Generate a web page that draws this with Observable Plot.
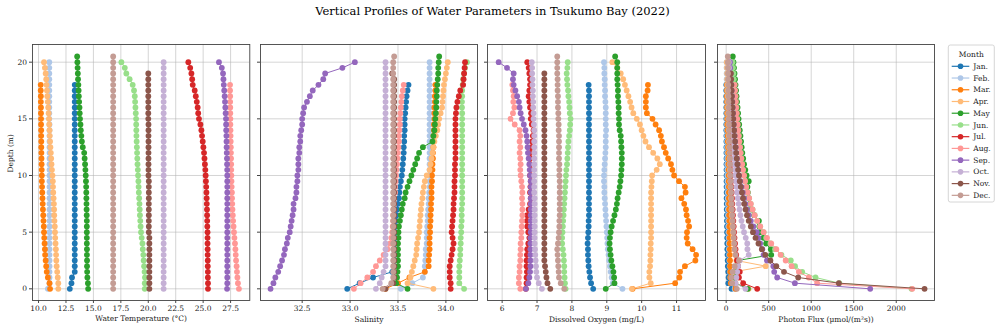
<!DOCTYPE html>
<html><head><meta charset="utf-8">
<script src="https://cdn.jsdelivr.net/npm/d3@7"></script>
<script src="https://cdn.jsdelivr.net/npm/@observablehq/plot@0.6"></script>
<style>
body{margin:0;background:#fff;font-family:"DejaVu Serif",serif;}
#fig{position:relative;width:1000px;height:330px;overflow:hidden;}
#fig svg.plot{position:absolute;}
#title{position:absolute;left:0;width:985px;top:4px;text-align:center;font-size:11.5px;color:#000;}
</style></head><body>
<div id="fig"><div id="title">Vertical Profiles of Water Parameters in Tsukumo Bay (2022)</div></div>
<script>
const months = ["Jan.","Feb.","Mar.","Apr.","May","Jun.","Jul.","Aug.","Sep.","Oct.","Nov.","Dec."];
const monthColors = ["#1f77b4","#aec7e8","#ff7f0e","#ffbb78","#2ca02c","#98df8a","#d62728","#ff9896","#9467bd","#c5b0d5","#8c564b","#c49c94"];
const depths = [0,0.5,1,1.5,2,2.5,3,3.5,4,4.5,5,5.5,6,6.5,7,7.5,8,8.5,9,9.5,10,10.5,11,11.5,12,12.5,13,13.5,14,14.5,15,15.5,16,16.5,17,17.5,18,18.5,19,19.5,20,20.5];
const yTicks = [0,5,10,15,20];
const tempTicks = [10,12.5,15,17.5,20,22.5,25,27.5];
const salTicks = [32.5,33,33.5,34];
const doTicks = [6,7,8,9,10,11];
const pfTicks = [0,500,1000,1500,2000];

// Water temperature (°C), from the surface (0 m) downwards in 0.5 m steps
const tempJan = [12.85,13.0,13.05,13.3,13.3,13.3,13.3,13.3,13.3,13.3, 13.3,13.3,13.3,13.3,13.3,13.3,13.3,13.3,13.3,13.3, 13.3,13.3,13.3,13.3,13.3,13.3,13.3,13.3,13.3,13.3, 13.3,13.3,13.3,13.3,13.3,13.3,13.3];
const tempFeb = [10.85,11.0,11.0,11.0,11.0,11.0,11.0,11.0,11.0,11.0, 11.0,11.0,11.0,11.0,11.0,11.0,11.0,11.0,11.0,11.0, 11.0,11.0,11.0,11.0,11.0,11.0,11.0,11.0,11.0,11.0, 10.98,10.98,10.98,10.98,10.98,10.98,10.98,10.98,10.98,10.98, 10.98];
const tempMar = [11.05,11.0,10.85,10.75,10.7,10.65,10.6,10.58,10.55,10.52, 10.5,10.48,10.45,10.43,10.4,10.38,10.36,10.34,10.32,10.3, 10.3,10.29,10.28,10.27,10.26,10.25,10.25,10.24,10.24,10.23, 10.23,10.22,10.22,10.21,10.21,10.2,10.2];
const tempApr = [11.8,11.8,11.75,11.7,11.65,11.62,11.6,11.58,11.55,11.52, 11.5,11.48,11.45,11.43,11.42,11.4,11.37,11.34,11.32,11.3, 11.27,11.22,11.18,11.15,11.12,11.08,11.05,11.02,11.0,10.97, 10.95,10.92,10.88,10.84,10.8,10.77,10.73,10.7,10.65,10.58, 10.5];
const tempMay = [14.52,14.5,14.45,14.43,14.42,14.42,14.41,14.41,14.4,14.4, 14.4,14.4,14.4,14.39,14.38,14.37,14.36,14.35,14.34,14.32, 14.3,14.27,14.24,14.2,14.16,14.03,13.95,13.9,13.85,13.82, 13.78,13.75,13.73,13.7,13.67,13.65,13.63,13.6,13.58,13.56, 13.54,13.52];
const tempJun = [19.68,19.68,19.7,19.66,19.62,19.58,19.55,19.5,19.47,19.4, 19.34,19.3,19.27,19.24,19.22,19.2,19.17,19.14,19.12,19.1, 19.07,19.05,19.02,19.0,18.98,18.96,18.94,18.92,18.91,18.9, 18.89,18.86,18.83,18.8,18.77,18.7,18.58,18.3,18.0,17.86, 17.55];
const tempJul = [25.44,25.44,25.43,25.43,25.42,25.42,25.41,25.41,25.4,25.4, 25.4,25.38,25.37,25.36,25.35,25.33,25.32,25.3,25.28,25.25, 25.23,25.2,25.16,25.12,25.08,25.02,24.96,24.9,24.84,24.75, 24.62,24.55,24.5,24.42,24.33,24.23,24.05,24.0,23.93,23.82, 23.65];
const tempAug = [28.26,28.17,28.12,28.08,28.05,28.0,27.97,27.94,27.9,27.85, 27.81,27.77,27.73,27.7,27.67,27.65,27.63,27.62,27.6,27.58, 27.57,27.56,27.55,27.54,27.53,27.52,27.51,27.5,27.49,27.48, 27.48,27.47,27.47,27.46,27.46,27.45,27.45];
const tempSep = [27.18,27.2,27.2,27.2,27.2,27.2,27.2,27.2,27.2,27.2, 27.2,27.2,27.2,27.2,27.2,27.2,27.2,27.2,27.2,27.2, 27.2,27.19,27.18,27.17,27.15,27.14,27.13,27.12,27.1,27.09, 27.08,27.05,27.02,26.99,26.96,26.92,26.88,26.85,26.81,26.7, 26.44];
const tempOct = [21.4,21.4,21.4,21.4,21.4,21.4,21.4,21.4,21.4,21.4, 21.4,21.4,21.4,21.4,21.4,21.4,21.4,21.4,21.4,21.4, 21.4,21.4,21.4,21.4,21.4,21.4,21.4,21.4,21.4,21.4, 21.4,21.4,21.4,21.4,21.4,21.4,21.4,21.4,21.4,21.4, 21.4];
const tempNov = [20.1,20.1,20.1,20.1,20.1,20.1,20.1,20.1,20.1,20.1, 20.05,20.05,20.05,20.05,20.05,20.05,20.05,20.05,20.05,20.05, 20.02,20.02,20.02,20.02,20.02,20.02,20.02,20.02,20.02,20.02, 20.0,20.0,20.0,20.0,20.0,20.0,20.0,20.0,20.0];
const tempDec = [16.8,16.8,16.8,16.8,16.8,16.8,16.8,16.8,16.8,16.8, 16.8,16.8,16.8,16.8,16.8,16.8,16.8,16.8,16.8,16.8, 16.8,16.8,16.8,16.8,16.8,16.8,16.8,16.8,16.8,16.8, 16.8,16.8,16.8,16.8,16.8,16.8,16.8,16.8,16.8,16.8, 16.8,16.8];

// Salinity
const salJan = [32.97,33.1,33.24,33.44,33.46,33.46,33.465,33.465,33.47,33.47, 33.47,33.475,33.48,33.485,33.49,33.5,33.51,33.515,33.52,33.53, 33.54,33.545,33.55,33.555,33.56,33.56,33.565,33.565,33.57,33.57, 33.57,33.575,33.58,33.585,33.59,33.6,33.61];
const salFeb = [33.53,33.65,33.76,33.78,33.78,33.785,33.79,33.79,33.8,33.8, 33.8,33.805,33.81,33.81,33.815,33.82,33.82,33.825,33.83,33.83, 33.83,33.83,33.83,33.83,33.83,33.83,33.83,33.83,33.83,33.83, 33.83,33.83,33.83,33.83,33.83,33.83,33.83,33.83,33.83,33.83, 33.83];
const salMar = [33.37,33.5,33.62,33.78,33.82,33.82,33.825,33.83,33.83,33.83, 33.835,33.835,33.84,33.84,33.845,33.845,33.85,33.85,33.85,33.855, 33.855,33.86,33.86,33.865,33.865,33.87,33.87,33.87,33.875,33.875, 33.88,33.88,33.88,33.885,33.885,33.89,33.89];
const salApr = [33.87,33.6,33.63,33.645,33.66,33.675,33.69,33.695,33.7,33.71, 33.72,33.725,33.73,33.735,33.74,33.745,33.755,33.76,33.77,33.78, 33.8,33.83,33.84,33.85,33.86,33.87,33.88,33.895,33.91,33.92, 33.93,33.945,33.96,33.965,33.97,33.975,33.98,33.99,34.0,34.01, 34.02];
const salMay = [33.6,33.48,33.49,33.495,33.5,33.5,33.5,33.5,33.5,33.505, 33.505,33.51,33.52,33.53,33.54,33.55,33.57,33.58,33.6,33.62, 33.64,33.66,33.68,33.7,33.72,33.76,33.86,33.87,33.88,33.885, 33.89,33.895,33.9,33.9,33.905,33.905,33.91,33.915,33.92,33.92, 33.925,33.93];
const salJun = [34.19,34.14,34.14,34.14,34.14,34.145,34.15,34.15,34.155,34.155, 34.16,34.16,34.165,34.165,34.165,34.17,34.17,34.17,34.17,34.17, 34.17,34.17,34.17,34.17,34.17,34.17,34.17,34.17,34.17,34.17, 34.17,34.17,34.168,34.168,34.17,34.17,34.175,34.18,34.19,34.2, 34.22];
const salJul = [34.05,34.05,34.04,34.04,34.04,34.05,34.06,34.07,34.08,34.07, 34.06,34.065,34.07,34.075,34.08,34.08,34.085,34.09,34.09,34.09, 34.095,34.095,34.095,34.1,34.1,34.1,34.1,34.1,34.1,34.1, 34.1,34.105,34.11,34.12,34.135,34.15,34.18,34.185,34.19,34.195, 34.2];
const salAug = [33.04,33.11,33.18,33.24,33.27,33.31,33.35,33.39,33.42,33.43, 33.44,33.445,33.45,33.45,33.455,33.46,33.46,33.47,33.47,33.475, 33.48,33.485,33.49,33.495,33.5,33.505,33.51,33.51,33.515,33.52, 33.52,33.525,33.53,33.535,33.54,33.55,33.56];
const salSep = [32.17,32.2,32.22,32.25,32.27,32.29,32.31,32.32,32.34,32.35, 32.37,32.38,32.39,32.4,32.41,32.41,32.43,32.44,32.44,32.45, 32.45,32.46,32.46,32.46,32.47,32.47,32.48,32.48,32.49,32.5, 32.5,32.51,32.52,32.55,32.58,32.61,32.67,32.72,32.74,32.92, 33.05];
const salOct = [33.27,33.31,33.33,33.35,33.37,33.37,33.37,33.37,33.37,33.37, 33.37,33.37,33.37,33.37,33.37,33.37,33.37,33.37,33.37,33.37, 33.37,33.37,33.37,33.37,33.37,33.37,33.37,33.37,33.37,33.37, 33.37,33.37,33.37,33.37,33.37,33.37,33.37,33.37,33.37,33.37, 33.37];
const salNov = [33.37,33.45,33.46,33.46,33.46,33.46,33.46,33.46,33.46,33.46, 33.46,33.46,33.46,33.46,33.46,33.46,33.46,33.46,33.46,33.46, 33.46,33.46,33.46,33.46,33.46,33.46,33.46,33.46,33.46,33.46, 33.46,33.46,33.46,33.46,33.46,33.46,33.46,33.46,33.44];
const salDec = [33.34,33.43,33.45,33.45,33.45,33.45,33.45,33.45,33.45,33.45, 33.45,33.45,33.45,33.45,33.45,33.45,33.45,33.45,33.45,33.45, 33.45,33.45,33.45,33.45,33.45,33.45,33.45,33.45,33.45,33.45, 33.45,33.45,33.45,33.45,33.45,33.45,33.45,33.45,33.45,33.45, 33.45,33.46];

// Dissolved oxygen (mg/L)
const doJan = [8.61,8.55,8.52,8.5,8.48,8.47,8.46,8.46,8.45,8.46, 8.47,8.48,8.48,8.49,8.49,8.49,8.49,8.49,8.49,8.49, 8.49,8.49,8.49,8.49,8.49,8.49,8.49,8.49,8.49,8.49, 8.49,8.49,8.49,8.49,8.49,8.49,8.48];
const doFeb = [9.45,9.17,9.14,9.11,9.09,9.07,9.05,9.03,9.02,9.01, 9.0,8.99,8.98,8.97,8.96,8.95,8.94,8.93,8.93,8.92, 8.92,8.93,8.94,8.95,8.96,8.97,8.97,8.97,8.98,8.97, 8.97,8.97,8.97,8.96,8.95,8.95,8.94,8.94,8.93,8.93, 8.92];
const doMar = [9.74,10.96,11.08,11.1,11.24,11.54,11.56,11.46,11.32,11.29, 11.3,11.36,11.33,11.29,11.27,11.22,11.14,11.26,11.24,11.07, 10.93,10.88,10.84,10.76,10.69,10.64,10.58,10.55,10.5,10.4, 10.31,10.15,10.12,10.12,10.12,10.17,10.18];
const doApr = [9.72,10.26,10.22,10.22,10.24,10.25,10.25,10.26,10.26,10.27, 10.27,10.27,10.27,10.27,10.27,10.27,10.27,10.27,10.28,10.29, 10.3,10.43,10.52,10.45,10.33,10.21,10.11,10.05,10.0,9.95, 9.86,9.76,9.71,9.67,9.62,9.57,9.52,9.47,9.4,9.3, 9.16];
const doMay = [8.97,9.22,9.21,9.19,9.16,9.13,9.11,9.09,9.08,9.09, 9.11,9.14,9.18,9.22,9.26,9.29,9.31,9.34,9.37,9.39, 9.41,9.42,9.43,9.43,9.43,9.42,9.41,9.4,9.37,9.35, 9.35,9.34,9.34,9.33,9.32,9.32,9.31,9.3,9.3,9.3, 9.3,9.24];
const doJun = [7.82,7.8,7.79,7.78,7.78,7.77,7.76,7.74,7.72,7.72, 7.73,7.74,7.75,7.76,7.77,7.78,7.79,7.8,7.81,7.82, 7.83,7.84,7.86,7.87,7.88,7.89,7.9,7.92,7.94,7.95, 7.96,7.94,7.93,7.92,7.9,7.89,7.87,7.86,7.85,7.87, 7.88];
const doJul = [6.68,6.7,6.7,6.71,6.7,6.7,6.71,6.72,6.75,6.78, 6.75,6.72,6.71,6.72,6.76,6.8,6.82,6.8,6.81,6.82, 6.8,6.82,6.8,6.81,6.82,6.84,6.86,6.88,6.9,6.85, 6.82,6.83,6.8,6.78,6.76,6.78,6.8,6.8,6.78,6.76, 6.72];
const doAug = [6.52,6.48,6.48,6.5,6.5,6.52,6.52,6.53,6.53,6.55, 6.55,6.56,6.57,6.58,6.58,6.58,6.57,6.58,6.57,6.55, 6.53,6.52,6.53,6.52,6.5,6.52,6.5,6.52,6.5,6.36, 6.24,6.31,6.35,6.32,6.33,6.31,6.29];
const doSep = [6.68,6.75,6.78,6.8,6.81,6.81,6.81,6.81,6.81,6.81, 6.82,6.82,6.82,6.82,6.82,6.82,6.82,6.82,6.82,6.82, 6.8,6.79,6.78,6.76,6.74,6.73,6.72,6.7,6.67,6.62, 6.57,6.53,6.5,6.48,6.43,6.38,6.33,6.31,6.33,6.14, 5.9];
const doOct = [7.14,7.05,7.0,6.98,6.97,6.96,6.95,6.94,6.93,6.93, 6.93,6.93,6.93,6.93,6.93,6.93,6.93,6.92,6.92,6.92, 6.92,6.92,6.92,6.92,6.92,6.92,6.92,6.92,6.92,6.91, 6.9,6.9,6.89,6.89,6.88,6.88,6.87,6.87,6.86,6.86, 6.85];
const doNov = [7.38,7.3,7.27,7.25,7.23,7.21,7.21,7.21,7.21,7.21, 7.21,7.21,7.21,7.21,7.21,7.21,7.21,7.21,7.21,7.21, 7.21,7.21,7.21,7.21,7.21,7.21,7.21,7.21,7.21,7.21, 7.21,7.21,7.21,7.21,7.21,7.21,7.21,7.21,7.21];
const doDec = [7.78,7.68,7.63,7.62,7.61,7.6,7.59,7.58,7.6,7.62, 7.63,7.64,7.64,7.65,7.65,7.65,7.65,7.65,7.65,7.65, 7.64,7.64,7.64,7.63,7.63,7.63,7.63,7.63,7.62,7.62, 7.61,7.61,7.6,7.6,7.6,7.59,7.59,7.59,7.58,7.58, 7.58,7.58];

// Photon flux (µmol/(m²s))
const pfJan = [63,25,28,24,20,18,16,14,13,12, 11,10,9,8,7,7,6,6,5,5, 5,4,4,4,3,3,3,3,2,2, 2,2,2,1,1,1,1];
const pfFeb = [100,55,50,45,42,38,35,33,31,29, 27,25,24,22,21,20,19,18,17,16, 15,14,13,13,12,11,11,10,10,9, 9,8,8,7,7,7,6,6,6,5, 5];
const pfMar = [110,55,50,48,46,45,44,43,41,40, 39,38,37,36,35,34,33,33,32,31, 30,29,27,26,24,22,20,18,16,14, 13,12,11,10,9,9,8];
const pfApr = [265,110,95,90,465,120,105,95,88,82, 78,74,70,66,63,60,57,54,51,49, 46,44,42,40,38,36,34,32,30,28, 26,24,22,21,19,17,15,13,12,10, 8];
const pfMay = [255,105,110,120,125,135,530,525,470,440, 400,390,385,330,300,280,265,255,250,265, 240,225,210,200,190,182,175,168,160,153, 146,140,134,128,122,116,110,104,98,92, 86,78];
const pfJun = [2180,1330,1051,894,810,760,650,575,520,470, 440,400,365,335,310,288,268,250,235,220, 208,197,187,178,170,162,155,148,140,132, 125,118,112,107,102,97,93,89,85,80, 75];
const pfJul = [365,200,150,160,140,128,118,110,104,98, 93,88,84,80,76,72,69,66,63,60, 58,56,54,52,50,48,47,46,45,44, 43,42,41,40,39,38,37,36,35,34, 33];
const pfAug = [2188,1070,972,855,770,700,640,590,530,480, 440,400,365,335,310,290,270,252,236,222, 210,198,188,178,170,162,155,148,142,136, 130,125,120,115,110,105,100];
const pfSep = [1694,808,600,565,555,480,440,425,400,380, 360,320,290,265,245,225,210,195,180,165, 150,142,134,126,118,111,105,99,93,88, 84,80,76,72,68,64,60,56,52,48, 45];
const pfOct = [227,110,120,130,140,160,265,250,248,230, 210,195,180,168,157,147,138,130,122,115, 108,102,96,91,86,81,77,73,69,65, 61,58,55,52,49,46,43,40,37,34, 31];
const pfNov = [2333,1325,847,680,590,520,460,420,380,345, 315,290,265,245,228,212,198,185,172,160, 150,140,132,124,117,110,104,98,93,88, 83,79,75,71,67,64,61,58,55];
const pfDec = [125,70,60,75,100,150,110,100,95,90, 85,80,76,72,68,65,62,59,56,53, 50,48,46,44,42,40,38,36,34,32, 30,29,28,27,26,25,24,23,22,21, 20,19];

const panels = [
  {series:[tempJan,tempFeb,tempMar,tempApr,tempMay,tempJun,tempJul,tempAug,tempSep,tempOct,tempNov,tempDec],
   label:"Water Temperature (°C)", ticks:tempTicks, fmt:d=>d.toFixed(1), domain:[9.45,29.25], left:31.7, right:249},
  {series:[salJan,salFeb,salMar,salApr,salMay,salJun,salJul,salAug,salSep,salOct,salNov,salDec],
   label:"Salinity", ticks:salTicks, fmt:d=>d.toFixed(1), domain:[32.065,34.33], left:260, right:477},
  {series:[doJan,doFeb,doMar,doApr,doMay,doJun,doJul,doAug,doSep,doOct,doNov,doDec],
   label:"Dissolved Oxygen (mg/L)", ticks:doTicks, fmt:d=>String(d), domain:[5.58,11.83], left:487, right:705},
  {series:[pfJan,pfFeb,pfMar,pfApr,pfMay,pfJun,pfJul,pfAug,pfSep,pfOct,pfNov,pfDec],
   label:"Photon Flux (µmol/(m²s))", ticks:pfTicks, fmt:d=>String(d), domain:[-102,2450], left:717, right:934}
];

const fig = document.getElementById("fig");
const frameTop = 44, frameBottom = 300;
const mL = 30, mR = 6, mT = 4, mB = 30;
const font = {fontFamily:"DejaVu Serif", fontSize:"7.5px", color:"#222", background:"transparent", overflow:"visible"};

panels.forEach((p, idx) => {
  const marks = [
    Plot.gridX(p.ticks, {stroke:"#b0b0b0", strokeOpacity:0.6, strokeWidth:0.9}),
    Plot.gridY(yTicks, {stroke:"#b0b0b0", strokeOpacity:0.6, strokeWidth:0.9})
  ];
  months.forEach((m, k) => {
    const rows = p.series[k].map((v, i) => ({month:m, depth:depths[i], value:v}));
    marks.push(Plot.line(rows, {x:"value", y:"depth", stroke:"month", strokeWidth:1}));
    marks.push(Plot.dot(rows, {x:"value", y:"depth", fill:"month", r:2.9}));
  });
  marks.push(Plot.frame({stroke:"#444", strokeWidth:0.9}));
  marks.push(Plot.axisX(p.ticks, {tickFormat:p.fmt, tickSize:3, tickPadding:2.5, label:null, stroke:"#444"}));
  marks.push(Plot.text([p.label], {frameAnchor:"bottom", dy:21, fontSize:7.5, fill:"#222"}));
  if (idx === 0) {
    marks.push(Plot.axisY(yTicks, {tickSize:3, tickPadding:2.5, label:null, stroke:"#444"}));
    marks.push(Plot.text(["Depth (m)"], {frameAnchor:"left", rotate:-90, dx:-22, fontSize:7.5, fill:"#222"}));
  } else {
    marks.push(Plot.axisY(yTicks, {tickSize:3, tickFormat:() => "", label:null, stroke:"#444"}));
  }
  const chart = Plot.plot({
    width: (p.right - p.left) + mL + mR,
    height: (frameBottom - frameTop) + mT + mB,
    marginLeft: mL, marginRight: mR, marginTop: mT, marginBottom: mB,
    style: font,
    x: {domain:p.domain, label:null},
    y: {domain:[-1.03, 21.56], label:null},
    color: {domain:months, range:monthColors},
    marks
  });
  chart.classList.add("plot");
  chart.style.left = (p.left - mL) + "px";
  chart.style.top = (frameTop - mT) + "px";
  fig.appendChild(chart);
});

// Legend
const lg = d3.create("svg").attr("width", 60).attr("height", 170)
  .style("position","absolute").style("left","940px").style("top","40px")
  .style("font-family","DejaVu Serif").style("font-size","7.5px");
lg.append("rect").attr("x", 8.3).attr("y", 5).attr("width", 46).attr("height", 157)
  .attr("rx", 2).attr("fill", "#fff").attr("stroke", "#ccc").attr("stroke-width", 0.8);
lg.append("text").attr("x", 31.3).attr("y", 16.5).attr("text-anchor","middle").attr("fill","#222").text("Month");
months.forEach((m, k) => {
  const y = 26.3 + 11.73 * k;
  lg.append("line").attr("x1", 11.7).attr("x2", 29.3).attr("y1", y).attr("y2", y)
    .attr("stroke", monthColors[k]).attr("stroke-width", 1.2);
  lg.append("circle").attr("cx", 20.5).attr("cy", y).attr("r", 2.8).attr("fill", monthColors[k]);
  lg.append("text").attr("x", 33.3).attr("y", y + 2.6).attr("fill","#222").text(m);
});
fig.appendChild(lg.node());
</script>
</body></html>
